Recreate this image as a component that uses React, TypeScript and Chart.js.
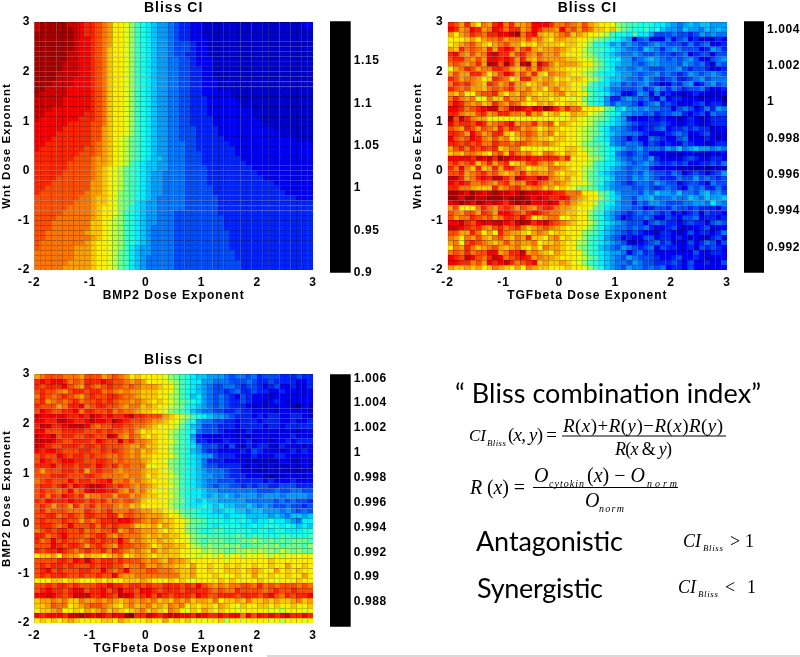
import React, { useEffect, useRef } from "react";
import { Chart, registerables } from "chart.js";
Chart.register(...registerables);

// Each letter is one estimated cell value on a 26-step scale (a = lowest, z = highest), top row first.
const bmp2WntRows = [
"xyyyyyxxwv vutsqqpnlk jihhgfeedd cccccccccc ccccccccdd",
"xyyyyyyxwv vutsqqpnlk jihhgfeedd cccccccccc cccccccccc",
"yyyyyyyxwv vutsqqpnlk jihhgfeedd cccccccccc cccccccccc",
"yyyyyyyxww vutsqqpnlk jihhgfeedd dccccccccc cccccccccc",
"yyyyyyyxww vutsqqpnlk jihhgfffed dccccccccc cccccccccc",
"yyyyyyyxww vutrqqpnlk jihhgfffed dccccccccc cccccccccc",
"yyyyyyxxww vutrqqpnlk jihhgffeed dccccccccc cccccccccc",
"yyyyyyxxww vutrqqpnlk jihhggffed ddcccccccc cccccccccc",
"yyyyyxxxww vutrqqpnlk jihhggffed ddcccccccc cccccccccc",
"yyyyyxxxww vutrqqpnlk jihhggffee ddcccccccc cccccccccc",
"yyyyxxxxww vutrqqpnlk jihhggffee ddcccccccc cccccccccc",
"yyyyxxxwww vutrqqpnlk jihhggffee dddccccccc cccccccccc",
"yyyxxxxwww vutrqqpnlk jihhggffee dddccccccc cccccccccc",
"yyxxxxwwww vutrqqpnlk jihhggffee dddccccccc cccccccccc",
"yxxxxxwwww vutrqqpnlk jihhggffee dddddccccc cccccccccc",
"xxxxxwwwww vutrqqpnlk jihhggffee edddddcccc cccccccccc",
"xxxxxwwwww vutrqqpnlk jihhggffee eddddddccc cccccccccc",
"xxxwwwwwww vutrqqpnlk jihhggffee eddddddddc cccccccccc",
"xxwwwwwwwv vutrqqpnlk jihhggffee eddddddddc cccccccccc",
"xwwwwwwwvv vutrqqpnlk jihhggffee eedddddddd cccccccccc",
"wwwwwwvvvv uutrqqpnlk jihhggffee eedddddddd dccccccccc",
"wwwwwvvvvv uusrqqpnlk jihhggfffe eeeddddddd dddccccccc",
"wwwwvvvvvv uusrqqpnlk jihhggfffe eeeddddddd ddddcccccc",
"wwwvvvvvvv uusrqpomlk jihhggfffe eeeedddddd dddddddccc",
"wwvvvvvvvv utsrqpomlk jihhgggffe eeeeeddddd dddddddddd",
"wvvvvvvvvu utsrqpomlk jihhgggffe eeeeeedddd dddddddddd",
"vvvvvvvvuu utsrqpomlk jihhgggfff eeeeeedddd dddddddddd",
"vvvvvvvuuu tssrqpomlk jiihgggfff eeeeeeeddd dddddddddd",
"vvvvvvuuuu tssrqpolkj iihhgggfff eeeeeeeedd dddddddddd",
"vvvvvvuuuu tsrqpomlkj iihhgggfff feeeeeeeed dddddddddd",
"vvvvvuuuuu tsrqpomlkj ihhggggfff feeeeeeeee dddddddddd",
"vvvvuuuuuu tsrqpomlkj ihhggggfff feeeeeeeee eddddddddd",
"vvvuuuuuuu ssrqpomlkj ihhggggfff feeeeeeeee eeeddddddd",
"vvuuuuuuuu ssrqpomlkj ihhggggfff ffeeeeeeee eeeedddddd",
"vuuuuuuuut ssrqpnmlkj ihhggggfff ffeeeeeeee eeeeeddddd",
"uuuuuuuutt srrqpnmlkj ihgggggfff fffeeeeeee eeeeeeeddd",
"uuuuuuuttt srrqpnmlji hhgggggfff fffeeeeeee eeeeeeeeee",
"uuuuuutttt srqqpnmkji hhgggggfff fffeeeeeee eeeeeeeeee",
"uuuuuttttt srqqpnlkji hhgggfffff fffeeeeeee eeeeeeeeee",
"uuuutttttt srqqonlkji hhgggfffff ffffeeeeee eeeeeeeeee",
"uuuttttttt rrqponlkji hhgggfffff ffffeeeeee eeeeeeeeee",
"uuuttttttt rrqponlkji hggggfffff ffffeeeeee eeeeeeeeee",
"uuttttttts rrqponlkji hggggfffff fffffeeeee eeeeeeeeee",
"uutttttttt srqponlkji hggggfffff fffffeeeee eeeeeeeeee",
"utttttttts rqqponlkji hggggfffff fffffeeeee eeeeeeeeee",
"uttttttsss rqqponljih hggggfffff fffffeeeee eeeeeeeeee",
"tttttttsss rqqpomljih hggggfffff ffffffeeee eeeeeeeeee",
"tttttttsss rqqpomljih gggggfffff ffffffeeee eeeeeeeeee",
"ttttttssss rqqpomljih gggggfffff fffffffeee eeeeeeeeee",
"tttttsssss rqqpomljih gggggfffff fffffffeee eeeeeeeeee",
];

const tgfWntRows = [
"vusvsqtsvw tvsstwwwvt tutsusrqqp nmllkkkjji hghihiihhh",
"wvstwvstwv tvvstwvtts wtusutrrqr omlkkljkih hgihhgihih",
"sqstvutvvw wxytvwsrrs tursrqqpol kkjljjhfff gffefhghgg",
"qqqrsqsttu sttsustrqs srrqqonmlk jihdfgdddg dfgdecdced",
"qrstusrqst ussqrqsrrr qrrqpnkkjh ighgffghgf ffegefgdde",
"srvtutsvsv wvsuvsrsst srqqomllkj ihggfihgeg hgfffdehge",
"vwtsustwxv vsuvtsusst rqqqonlkji hgghgffgff efgdeffdff",
"uvvtsuswwv wvsvsrtsss srrqponlkj jhhfghihgf gfghfddfgh",
"tutstvsyxu yvsxysxvtr sssrqqnmkj ihhgfghhgg gfhgfgecgf",
"pstvusttvv usrsusvtsr rqqqponlkj hhgghgfffg ghfeffedde",
"sussvvtqsu wvsusvrqts srqqonlkjj ihhgfgghfg fefhgfghgf",
"vusttsqrvu tqrvvsrssq rqrrqonlji ihggfhgfef geefghfggg",
"tvuvtsrvus tvssqrstsr srqqpmkjjh hfgfghfecd feghdeghfg",
"vutussrtut uvsstrsqst rrqqnlkjig gfffgefhge gfeffgedde",
"srtqqtuuvs qsrtsrqrrs tqrqqmkkjh gddehgdgde ddcdeddccd",
"tvtstpqtrr usstqsrrqr qqpqnlkjhe eghgfgedgd eedddcdddb",
"uwvtstrsvt sutrqqsrsq qrrqolkjhf hggfdfghef edddefdeec",
"wwvtuvwxxt uxxwvxwyxv tvttqqqpml ijhhghggff dfgfdegehg",
"vvtssuvstv vttsvstqrs qqsrrponlk jhhggfgeff ggedefdgff",
"yuxvtssqqq qqqqqqqqqq pqrqponmlj ihedddeded dcdedcdeee",
"wuvvuwvstu vwsttvstuq srqqpomlkj ihgfeeeefe dddedcdeee",
"utsvusutsv tvustsqrsr qqqponmkjh hgfedeefgd eefefeecdd",
"vvuswustvv rqstutrstq rqqponmlji hgggfeddde fgfddefdcc",
"wutuwvtsus tqrstsrrqr rqqponlkjh gfdfddgfed dfgdddedcd",
"vvuvuvttvu utuutsstsr qqqpnmllkh gfggfdfede ddfeddcdee",
"suvtvuvuvr sttqqqqqqq qrrqonmlkj ihgghfggfh gighihhghg",
"rsrttsrqtu rvtstrqttr qsrqqnmlkj gfefgfdddc ccddcccdcd",
"wwwwvxwxvy xwwvwvvvvv tvqqqonmkj hgfggfhedd ddefeddeed",
"uvtuvrtvsu vqrsuvtstq rqqqpolkjj ihgfghgfee fefddeefeg",
"vtwtrvrsvs vvtsqrrrtt srqqonlkji hgfgggeddd dcccbcbccc",
"uuvstuvtus rstvstsstr qrrqomljih ggfgfhgffe gfdefedefh",
"xxvstvwvxx vtxwvvxwts rsqqomlkji ggfhghgfee egffhfgfef",
"wvwvttutsu vstsvwutst srqqpnlkih gfefggfhgf fdeffedgff",
"vvttsrrrvs tuvtsttrsq rqpnnmljih gggffgfefg fedgfgeege",
"yyxwyxwxyx xwxyxxwwwv vtttqqpmlj hgggfhgihh giggfhighf",
"yywyyxxyyy xyyyxwxwvv wvtsrqqnlj iggfhhiggg hggihgihhi",
"wxyxwyxwxw vxyxywwwxw tusrqqolkj hggegfhhgf ffgghhgjhg",
"suqqqtvtsu vusutsuvvt ssrqqpmlji hggffdeffe gffefeeedf",
"utsuusvusw wvutvwvutt srrqqnlkih gfefgfgfef dedefcfeed",
"usttvutust vvuwuqrstt pqrqqnlkih fdeffgfddf edffgdeede",
"wwxvuwxwxx wvxyxvwxvu tsrqqomkji hgfffdfgfe edefeedfgf",
"xxwvuvtsuv tuvtrstuts rqqqpnlkih ggfgfgedde fdcddefcdd",
"uussvtqsqv tssrqstsqr rqqqnmljih gfefeddcee dcdfdeedeg",
"tsqtsusrtu srtsvrrqst qrqpnlkjhg fdeddffdee dedcdccefd",
"stpuvutsrs ustsstqrrs rqqonlkjih gfdcdefgef dddfdegfdf",
"qtsvtrstus rstrqsqtss rqqnmlkihg fhgfefgdfe eddecfefed",
"tutvtuuwws tvvxstsrqs rqqqnlkjih hgdfgefddd ddddfddeed",
"wvuxwutvxw tuvwvstssr qqqpomljih gfhgfffedd efddedcddd",
"wwvvtuswvw xvtuvwrsrr srqpnlkjih ggfhgffeee fedfddeddf",
"srrsrsqrts rqsqtsrrqq qrqqpnlkih gfhggfgfgd eedfdddddd",
];

const tgfBmpRows = [
"stuuutttsu uustutsqrq qqqpnmlkji ihhhgfggfg efffeeefee",
"vwvwwvtutv vvwvuutsts qqqqonlkjj hhgggfffgf eefeeeedde",
"vuvvvwutsv utuvuututs ssrqqnlkji hgffggfeff edefddedde",
"uvuutsuvvu vvtutstssr rrqqpnlkji hgffefgeef eeddedddcd",
"tvutuvutsu vuuvvuttsr rrqqonlkij hgfgfedfed ddcddddddd",
"uvstutuvtu uvuvuttsts rqrqpnmlkj hgfgfeefed dcdedcdddd",
"vuuustvvwt uvvuutsttr srqqonmkji hgfgfeeedc dcddddcbdc",
"uwvuuvvwtv vuuvtuttsr rqqpnmlkih ggffeefeed dddcdddddc",
"xwwwwwvvwv xwvwvvwxvv uuusrqonlk jihhgfeeed edeeddeedc",
"wwvvxxwvvw xwwvxwvuuu tssrqpnlkh ggffeedeee deeeddedde",
"vxxvvwxxxw utuuvvuutt srqqqomkih fffeeedeee edeedeeeee",
"wwuuuvvvvu uvuvuutusq rqqqonlkjg fffeddcded ddddcddcdd",
"xwwxuvvuuv vuuxwtsutr qrqqomlkhe ddddddcdcd ddddddeddd",
"xxxwvuuvvv uwvuuxuvtt srqqpnlkie edddedddec ddcddedeee",
"xwvuuvvvuv vuvuuutsst rrqqomlkjh fffedfdced eedcedddcd",
"wvwwvuuuvv uuvuvutstr srqqomlkih feeddddedf edddcdeded",
"uvuuwvuvvu vuuttutstr rqqqpnlkji hhfeeeddde dddeeddddd",
"uwvuvwwvvu uvvututtts rqqpnmlkji geeeddddcc ccccddccdc",
"vvvwuvvuvv uwvuvtuttt qpqqnmlkji gffeeeedcd ccdcccdcdc",
"usuuuvvuvs uvuutsttts rrqpomlkji hgggfeeddc ccdccccccc",
"uuuvvvuuuv vuttttstts qrqqpnlkji hhggfeeedd dcbccdddcd",
"tuvuuuwuvv uvvwttusts rqqqonlkji hggfffeeee ededddeddd",
"uvvuvwuwvw xxwvuvutst srqqpnlkji hgfggffefe ffeefffeee",
"uvuutuwtuw xwwvvtsust rqpqonlkjj ihhggggggg fffgffggff",
"uvtvuwvuvs ttuusuusts rrqqpnlkjj ihihihghhh ghhhghhhhg",
"vuwvvvwvvu vuvtutuutr qqqqonmkji jiihhhhhgg gggfgfgffe",
"uvusuusvtu vtuutstrsq qqqqomlkjj kjijiihhih ghgffgffef",
"uvtuuutttv utuvtttuts srrqpomllk jjiijjiihi ihhhghgfgf",
"uuvvtuvutv vuuvvsuutt sssrqqnmlk kjjjijjjii iihihgiihi",
"uvuuuvuusu tuvvvwwvut stsrrqqomm lkkkjkjkji jjkjjihgjj",
"uvvutuwuuu vtvuvuutrr rsqsrqqnml lkjkkkkjjk jkkkjkjiji",
"tuvuvvuuvt utuuvstuts ssrqrqqnml kkllkkkkkj kkjkkjjjkk",
"vvtuvwuuut uvvtsuttts rsrsrrqpnm mlllllmlkl lkkkllkkkl",
"vtuwuvuutu vuvuuwusts rrsrrqqpnm lmmmlllmmn mlmlmlmmml",
"uuuwvuvvus uvutsvuutt sqrssrrqon mnmmnmnllm mnmnlmmmln",
"vuvvwvutuv uuvtvutsts rtrsrrqqpp nonnmmnnon onnmonmnmm",
"qrrsqtssqs rrqrstqrss rqrrrrqppo ppoqopqopp qpoqopqpqp",
"uuuuvvuwvx vuvvuvuuut stsrtssrqq qqqqpqqqqq qqrqqqqqqq",
"uvuvvuvuuu vuvvuusttu sstssrrqsq qrqqrqrqqr qqrqqsqqrq",
"uvwuvuuuvv uuwutuwttt uutttsrrsq qrqqrrrqrs rqqsqrqrqq",
"uvuvvvuuvu uvuuwtsstt ttttttrrsq qqrqpqrqqs qqrqqrqqsq",
"qqqrrqrrqq qrqrqqrrrs rqqqrqrqpq qqqrqrqqqq rqqpqqqrqq",
"uuvuvvuvuu uvvwvvuvvu vuuvvvuvuw utststtuut vtutuuutut",
"uvwvvuvwwu vvwuvxvvuw wvuvvvuvvv vututtvuuu utuvuuvuuu",
"wwxwvuvxxx vvwvuxxwuv wuwvuvvvuw vuuvvvuvvv uvwutvuvvw",
"rsststrrts ststsrstst strsrtstrs srtqrrsrtr rsrsrrstrs",
"rrsuttqrst uutsrqstrs trsrtstqrq rrqsrqprqq rrqrqqrqqr",
"qrrstqqrqs rstrsrqrst rsrqtsqprq srqrqqpqqq qqppoqqqpq",
"wvwwwvxxyx wxwvwwyzvv xwvwxxwwvx wvvwvwwtwu wvwvwxvvwv",
"qrqrqrsrqq qqrrqsrqqq rqqsqrqrpq pqqroqqpqq qqpqoqqqpq",
];

const colsPerRow = 50;
const axisMin = -2;
const axisMax = 3;
const cellStep = 0.1;
const xTicks = [-2, -1, 0, 1, 2, 3];

const ranges = { a: [0.9, 1.197], b: [0.9906, 1.00444], c: [0.986, 1.00633] };
const tickSetA = [0.9, 0.95, 1, 1.05, 1.1, 1.15];
const tickSetB = [0.992, 0.994, 0.996, 0.998, 1, 1.002, 1.004];
const tickSetC = [0.988, 0.99, 0.992, 0.994, 0.996, 0.998, 1, 1.002, 1.004, 1.006];

function jetParts(t: number) {
  const f = (c: number) => Math.round(255 * Math.max(0, Math.min(1, 1.5 - Math.abs(4 * t - c))));
  return [f(3), f(2), f(1)];
}

const FONT = "'Liberation Sans', Arial, sans-serif";

const spacingOf = (px: string) => ({
  id: "spacing",
  beforeDraw: (chart: any) => { chart.ctx.letterSpacing = px; },
});

function heatConfig(rows: string[], range: number[], yLabel: string, xLabel: string, yw: number, yPad: number) {
  const data: any[] = [];
  const colors: string[] = [];
  const edges: string[] = [];
  const [lo, hi] = range;
  rows.forEach((row, r) => {
    const clean = row.replace(/\s/g, "").slice(0, colsPerRow).padEnd(colsPerRow, row.trim().slice(-1));
    for (let c = 0; c < colsPerRow; c++) {
      const t = (clean.charCodeAt(c) - 97) / 25;
      const value = lo + t * (hi - lo);
      const top = axisMax - r * cellStep;
      data.push({ x: axisMin + (c + 0.5) * cellStep, y: [top - cellStep, top], v: value });
      const [cr, cg, cb] = jetParts((value - lo) / (hi - lo));
      colors.push(`rgb(${cr},${cg},${cb})`);
      edges.push(`rgb(${Math.round(cr * 0.72)},${Math.round(cg * 0.72)},${Math.round(cb * 0.72)})`);
    }
  });
  return {
    type: "bar",
    data: {
      datasets: [{
        data, backgroundColor: colors, borderColor: edges,
        borderWidth: { left: 1, top: 1, right: 0, bottom: 0 }, borderSkipped: false,
        barPercentage: 1, categoryPercentage: 1,
      }],
    },
    options: {
      responsive: false, animation: false, events: [],
      layout: { autoPadding: false, padding: { right: 16 } },
      plugins: {
        legend: { display: false }, tooltip: { enabled: false },
        title: {
          display: true, text: "Bliss CI", fullSize: false, color: "#000",
          font: { family: FONT, size: 14, weight: "bold", lineHeight: 1.2 },
          padding: { top: 0, bottom: 5.2 },
        },
      },
      scales: {
        x: {
          type: "linear", offset: false, min: axisMin, max: axisMax,
          afterFit: (s: any) => { s.height = 34; },
          afterBuildTicks: (s: any) => { s.ticks = xTicks.map((value) => ({ value })); },
          grid: { display: false, drawTicks: false }, border: { display: false },
          ticks: { color: "#000", padding: 5, maxRotation: 0, autoSkip: false, font: { family: FONT, size: 12, weight: "bold" } },
          title: { display: true, text: xLabel, color: "#000", padding: { top: 0, bottom: 1 }, font: { family: FONT, size: 12, weight: "bold", lineHeight: 1.2 } },
        },
        y: {
          type: "linear", min: axisMin, max: axisMax,
          afterFit: (s: any) => { s.width = yw; },
          afterBuildTicks: (s: any) => { s.ticks = xTicks.map((value) => ({ value })); },
          grid: { display: false, drawTicks: false }, border: { display: false },
          ticks: { color: "#000", padding: 4, autoSkip: false, font: { family: FONT, size: 12, weight: "bold" } },
          title: { display: true, text: yLabel, color: "#000", padding: { top: yPad, bottom: 0 }, font: { family: FONT, size: 11.5, weight: "bold", lineHeight: 1.2 } },
        },
      },
    },
    plugins: [spacingOf("1px")],
  };
}

function barConfig(range: number[], ticks: number[], canvasW: number, barW: number) {
  return {
    type: "bar",
    data: { labels: [""], datasets: [{ data: [range], backgroundColor: "#000", barPercentage: 1, categoryPercentage: 1, borderSkipped: false }] },
    options: {
      responsive: false, animation: false, events: [],
      layout: { autoPadding: false, padding: { top: 8, bottom: 8 } },
      plugins: { legend: { display: false }, tooltip: { enabled: false } },
      scales: {
        x: { display: false },
        y: {
          position: "right", min: range[0], max: range[1],
          afterFit: (s: any) => { s.width = canvasW - barW; },
          afterBuildTicks: (s: any) => { s.ticks = ticks.map((value) => ({ value })); },
          grid: { display: false, drawTicks: false }, border: { display: false },
          ticks: { color: "#000", padding: 3, autoSkip: false, callback: (v: any) => String(v), font: { family: FONT, size: 12, weight: "bold" } },
        },
      },
    },
    plugins: [spacingOf("0.6px")],
  };
}

const panels = [
  { left: 0, top: 0, w: 329, h: 304, cfg: () => heatConfig(bmp2WntRows, ranges.a, "Wnt Dose Exponent", "BMP2 Dose Exponent", 34.3, 0) },
  { left: 410, top: 0, w: 333, h: 304, cfg: () => heatConfig(tgfWntRows, ranges.b, "Wnt Dose Exponent", "TGFbeta Dose Exponent", 37.7, 1) },
  { left: 0, top: 352, w: 329, h: 305, cfg: () => heatConfig(tgfBmpRows, ranges.c, "BMP2 Dose Exponent", "TGFbeta Dose Exponent", 34.3, 0) },
  { left: 330, top: 11, w: 70, h: 272, cfg: () => barConfig(ranges.a, tickSetA, 70, 20.7) },
  { left: 744, top: 11, w: 56, h: 272, cfg: () => barConfig(ranges.b, tickSetB, 56, 20) },
  { left: 330, top: 364, w: 70, h: 273, cfg: () => barConfig(ranges.c, tickSetC, 70, 20.7) },
];

function Formula() {
  const S = "'Liberation Serif', 'Times New Roman', serif";
  const C = "Lato, 'Open Sans', sans-serif";
  const t = (x: number, y: number, s: string, size: number, opts: any = {}) => (
    <text x={x} y={y} fontSize={size} fontFamily={opts.fam || S} fill="#000" textLength={opts.w} lengthAdjust="spacing">
      {opts.fam
        ? s
        : s.split(/([A-Za-z]+)/).filter(Boolean).map((part, i) => (
            <tspan key={i} fontStyle={/[A-Za-z]/.test(part) ? "italic" : "normal"}>{part}</tspan>
          ))}
    </text>
  );
  return (
    <svg width={800} height={657} style={{ position: "absolute", left: 0, top: 0, pointerEvents: "none" }}>
      {t(455, 403, "“ Bliss combination index”", 27, { fam: C, w: 306 })}
      {t(469, 441, "CI", 17)}
      {t(487, 446, "Bliss", 9, { w: 19 })}
      {t(508, 441, "(x, y) =", 19, { w: 49 })}
      {t(563, 432, "R(x)+R(y)−R(x)R(y)", 19, { w: 160 })}
      <line x1={562} x2={726} y1={436} y2={436} stroke="#000" strokeWidth={1} />
      {t(615, 455, "R(x & y)", 18, { w: 57 })}
      {t(470, 494, "R (x) =", 20, { w: 55 })}
      {t(534, 482, "O", 20, { w: 15 })}
      {t(549, 487, "cytokin", 10, { w: 35 })}
      {t(587, 482, "(x) − O", 20, { w: 58 })}
      {t(647, 487, "norm", 10, { w: 30 })}
      <line x1={533} x2={678} y1={487.5} y2={487.5} stroke="#000" strokeWidth={1} />
      {t(585, 507, "O", 20, { w: 15 })}
      {t(599, 512, "norm", 10, { w: 25 })}
      {t(476, 551, "Antagonistic", 27, { fam: C, w: 147 })}
      {t(477, 598, "Synergistic", 27, { fam: C, w: 126 })}
      {t(683, 547, "CI", 18)}
      {t(703, 551, "Bliss", 9, { w: 20 })}
      {t(730, 547, ">", 18, { w: 10 })}
      {t(745, 547, "1", 18)}
      {t(678, 593, "CI", 18)}
      {t(698, 597, "Bliss", 9, { w: 20 })}
      {t(725, 593, "<", 18, { w: 10 })}
      {t(747, 593, "1", 18)}
      <line x1={267} x2={800} y1={656} y2={656} stroke="#b4b4b4" strokeWidth={1} />
    </svg>
  );
}

export default function App() {
  const refs = useRef<(HTMLCanvasElement | null)[]>([]);
  useEffect(() => {
    const charts = panels.map((p, i) => new Chart(refs.current[i] as any, p.cfg() as any));
    return () => charts.forEach((c) => c.destroy());
  }, []);
  return (
    <div style={{ position: "absolute", left: 0, top: 0, width: 800, height: 657, overflow: "hidden", background: "#fff" }}>
      {panels.map((p, i) => (
        <canvas key={i} ref={(el) => { refs.current[i] = el; }} width={p.w} height={p.h}
          style={{ position: "absolute", left: p.left, top: p.top, width: p.w, height: p.h }} />
      ))}
      <Formula />
    </div>
  );
}
